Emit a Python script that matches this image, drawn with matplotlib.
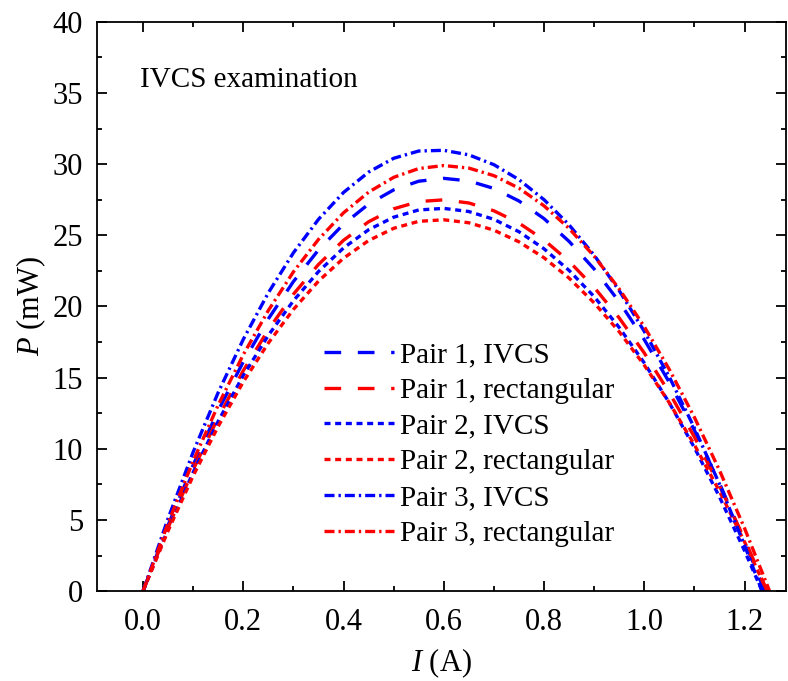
import matplotlib
matplotlib.use("Agg")
import matplotlib.pyplot as plt
from matplotlib.ticker import MultipleLocator

plt.rcParams['font.family'] = ['Liberation Serif', 'DejaVu Serif']
plt.rcParams['mathtext.fontset'] = 'custom'
plt.rcParams['mathtext.rm'] = 'Liberation Serif'
plt.rcParams['mathtext.it'] = 'Liberation Serif:italic'

# current (A) grid, read every 0.05 A, plus the end point of each curve
current = [0.0, 0.05, 0.10, 0.15, 0.20, 0.25, 0.30, 0.35, 0.40, 0.45, 0.50,
           0.55, 0.60, 0.65, 0.70, 0.75, 0.80, 0.85, 0.90, 0.95, 1.00, 1.05,
           1.10, 1.15, 1.20]

end_current = {
    "p1_ivcs": 1.240, "p1_rect": 1.245,
    "p2_ivcs": 1.235, "p2_rect": 1.245,
    "p3_ivcs": 1.235, "p3_rect": 1.250,
}

# power (mW)
p1_ivcs = [0, 4.63, 8.86, 12.69, 16.11, 19.13, 21.75, 23.97, 25.78, 27.19,
           28.19, 28.80, 29.00, 28.82, 28.29, 27.41, 26.17, 24.57, 22.63,
           20.33, 17.67, 14.66, 11.30, 7.58, 3.51]
p1_rect = [0, 4.46, 8.53, 12.20, 15.49, 18.37, 20.86, 22.95, 24.65, 25.95,
           26.86, 27.37, 27.49, 27.27, 26.72, 25.86, 24.67, 23.17, 21.34,
           19.19, 16.73, 13.94, 10.83, 7.40, 3.65]
p2_ivcs = [0, 4.37, 8.35, 11.94, 15.15, 17.97, 20.40, 22.45, 24.11, 25.39,
           26.27, 26.78, 26.89, 26.67, 26.12, 25.25, 24.05, 22.53, 20.69,
           18.52, 16.03, 13.22, 10.08, 6.62, 2.84]
p2_rect = [0, 4.24, 8.10, 11.58, 14.70, 17.43, 19.79, 21.78, 23.39, 24.63,
           25.49, 25.98, 26.09, 25.88, 25.36, 24.54, 23.42, 21.99, 20.25,
           18.22, 15.87, 13.23, 10.28, 7.02, 3.46]
p3_ivcs = [0, 5.11, 9.77, 13.96, 17.69, 20.96, 23.77, 26.12, 28.01, 29.44,
           30.41, 30.92, 30.97, 30.65, 29.96, 28.91, 27.50, 25.73, 23.60,
           21.11, 18.25, 15.04, 11.46, 7.52, 3.22]
p3_rect = [0, 4.78, 9.14, 13.08, 16.61, 19.72, 22.43, 24.71, 26.58, 28.03,
           29.07, 29.69, 29.90, 29.72, 29.19, 28.31, 27.07, 25.48, 23.53,
           21.23, 18.58, 15.57, 12.21, 8.49, 4.42]

series = [
    ("p1_ivcs", p1_ivcs, "Pair 1, IVCS"),
    ("p1_rect", p1_rect, "Pair 1, rectangular"),
    ("p2_ivcs", p2_ivcs, "Pair 2, IVCS"),
    ("p2_rect", p2_rect, "Pair 2, rectangular"),
    ("p3_ivcs", p3_ivcs, "Pair 3, IVCS"),
    ("p3_rect", p3_rect, "Pair 3, rectangular"),
]

styles = {
    "p1": (0, (5.0, 5.0)),
    "p2": (0, (1.8, 1.4)),
    "p3": (0, (3.0, 1.2, 0.7, 1.2)),
}

fig = plt.figure(figsize=(7.88, 6.81), dpi=100)
ax = fig.add_axes([0.123, 0.132, 0.874, 0.836])

for key, vals, label in series:
    color = "#0000ff" if key.endswith("ivcs") else "#ff0000"
    xs = current + [end_current[key]]
    ys = vals + [0]
    ax.plot(xs, ys, color=color, lw=2.4, linestyle=styles[key[:2]],
            label=label)

ax.set_xlim(-0.092, 1.282)
ax.set_ylim(0, 40)
ax.xaxis.set_major_locator(MultipleLocator(0.2))
ax.xaxis.set_minor_locator(MultipleLocator(0.1))
ax.yaxis.set_major_locator(MultipleLocator(5))
ax.yaxis.set_minor_locator(MultipleLocator(2.5))
ax.xaxis.set_major_formatter(plt.FormatStrFormatter('%.1f'))

ax.tick_params(which='both', direction='in', top=True, right=True,
               width=1.3, labelsize=22)
ax.tick_params(which='major', length=7)
ax.tick_params(which='minor', length=3.5)
ax.tick_params(axis='x', which='major', pad=12)
ax.tick_params(axis='y', which='major', pad=10)
for s in ax.spines.values():
    s.set_linewidth(1.3)

ax.set_xlabel("$I$ (A)", fontsize=22, labelpad=7)
ax.set_ylabel("$P$ (mW)", fontsize=22, labelpad=3)

ax.text(0.062, 0.898, "IVCS examination", transform=ax.transAxes,
        fontsize=21, ha='left', va='center')

ax.legend(loc='center', bbox_to_anchor=(0.54, 0.258), frameon=False,
          fontsize=21, handlelength=2.4, handletextpad=0.2,
          labelspacing=0.32)

plt.savefig("out.png", dpi=100)
